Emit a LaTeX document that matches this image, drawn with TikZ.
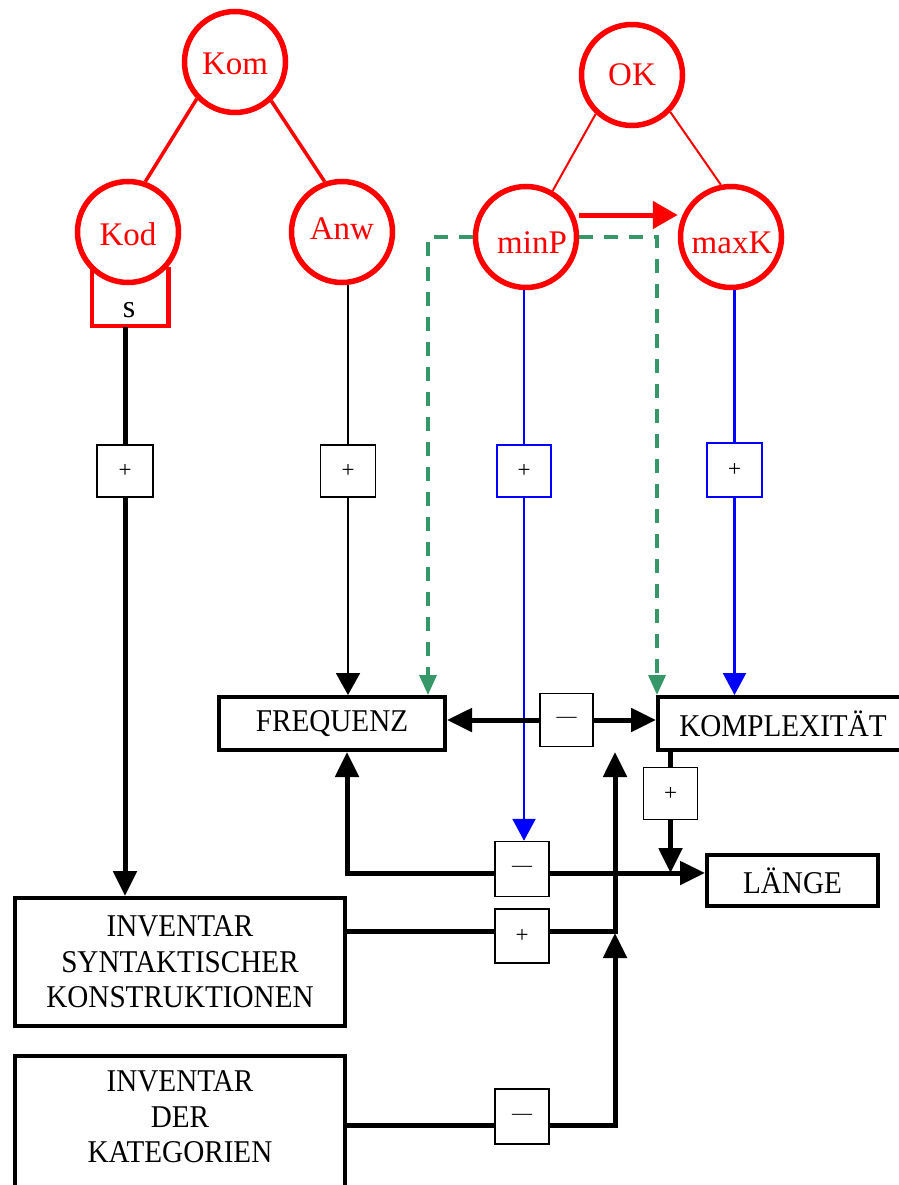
\documentclass[tikz,border=0pt]{standalone}
\usepackage{fontspec}
\setmainfont{Liberation Serif}
\newfontfamily\boxfont{Liberation Serif}[FakeStretch=0.92]
\usetikzlibrary{arrows.meta}
\definecolor{gr}{RGB}{54,152,104}
\definecolor{rd}{RGB}{255,0,0}
\newcommand{\shifttxt}[3]{\raisebox{#2}[\height][\depth]{\kern#1 #3\kern-#1}}
\begin{document}
\begin{tikzpicture}[x=1pt,y=-1pt,
  circ/.style={circle,draw=rd,line width=5.5pt,minimum size=101pt,inner sep=0pt,text=rd,font=\fontsize{33}{36}\selectfont},
  bigbox/.style={draw,line width=4pt,inner sep=0pt,font=\boxfont\fontsize{31.7}{35.5}\selectfont,align=center},
  sbx/.style={draw,line width=1.5pt,minimum width=54pt,minimum height=53pt,inner sep=0pt,fill=white,font=\fontsize{23}{25}\selectfont},
  bsbx/.style={sbx,draw=blue},
  thk/.style={line width=5pt},
  thn/.style={line width=2pt},
  blu/.style={draw=blue,line width=2.5pt},
  grn/.style={draw=gr,line width=3.5pt,dash pattern=on 14pt off 11pt,-{Triangle[length=20pt,width=17pt]}},
  tipk/.style={-{Triangle[length=25pt,width=23pt]}},
  tipb/.style={-{Triangle[length=22pt,width=23pt]}}
]
\useasboundingbox (0,0) rectangle (898,1185);
\fill[white] (0,0) rectangle (898,1185);

% named helper coordinates for line levels
\coordinate (Ly) at (0,873);
\coordinate (Sy) at (0,931);
\coordinate (Ky) at (0,1125);
\coordinate (Jx) at (615,0);
\coordinate (sb) at (125,327);

% circles
\node[circ] (Kom) at (235,62) {\shifttxt{0pt}{-2pt}{Kom}};
\node[circ] (Kod) at (128,232) {\shifttxt{0pt}{-2pt}{Kod}};
\node[circ] (Anw) at (342,232) {\shifttxt{0pt}{3pt}{Anw}};
\node[circ] (OK) at (632,75) {OK};
\node[circ] (minP) at (526,237) {\shifttxt{6pt}{-6pt}{minP}};
\node[circ] (maxK) at (731,237) {\shifttxt{1pt}{-6pt}{maxK}};

% s box
\node[inner sep=0pt,font=\fontsize{32}{34}\selectfont] (s) at (129,310) {s};
\draw[rd,line width=4.5pt] (92,267) -- (92,326) -- (168.5,326) -- (168.5,267);

% big boxes
\node[bigbox,minimum width=226pt,minimum height=53pt] (FREQ) at (332,723.5) {FREQUENZ};
\node[bigbox,minimum width=250pt,minimum height=53pt] (KOMP) at (783,723.5) {KOMPLEXITÄT};
\node[bigbox,minimum width=171pt,minimum height=51pt] (LAENGE) at (792.5,880.5) {LÄNGE};
\node[bigbox,minimum width=330pt,minimum height=128pt] (SYN) at (180,962) {INVENTAR\\SYNTAKTISCHER\\KONSTRUKTIONEN};
\node[bigbox,draw=none,outer sep=0pt,minimum width=330pt,minimum height=122pt] (KAT) at (180,1117) {INVENTAR\\DER\\KATEGORIEN};
\draw[line width=4pt] (KAT.north west) rectangle ([yshift=-40pt]KAT.south east);

% red tree lines
\draw[rd,line width=3.5pt] (Kom.224) -- (Kod.71);
\draw[rd,line width=3.5pt] (Kom.313) -- (Anw.109);
\draw[rd,line width=2pt] (OK.227) -- (minP.60);
\draw[rd,line width=2pt] (OK.316) -- (maxK.101);
\draw[rd,line width=5pt,-{Triangle[length=25pt,width=27pt]}] ([yshift=22pt]minP.east) -- ([yshift=22pt]minP.east -| maxK.west);

% green dashed
\draw[grn] (minP.west) -| ([xshift=96pt]FREQ.north);
\draw[grn] (minP.east) -| ([xshift=-126pt]KOMP.north);

% small boxes
\node[sbx,minimum width=56pt,minimum height=52pt] (pK) at (125,471) {+};
\node[sbx,minimum width=55pt,minimum height=52pt] (pA) at (348,471) {+};
\node[bsbx,minimum height=52pt] (pP) at (524,471) {+};
\node[bsbx,minimum width=55pt,minimum height=54pt] (pX) at (734.5,470) {+};
\node[sbx,minimum width=53pt,font=\fontsize{20}{22}\selectfont] (mFK) at (566.5,720) {—};
\node[sbx,minimum height=52pt] (pKL) at (670.5,793.5) {+};
\node[sbx,minimum height=55pt,font=\fontsize{20}{22}\selectfont] (mL) at (522,869) {—};
\node[sbx,minimum height=54pt] (pS) at (522,936) {+};
\node[sbx,minimum height=55pt,font=\fontsize{20}{22}\selectfont] (mK) at (522,1116.5) {—};

% Kod chain
\draw[thk] (sb) -- (sb |- pK.north);
\draw[thk,tipk] (pK.south) -- (pK.south |- SYN.north);
% Anw chain
\draw[thn] (pA.north |- Anw.south) -- (pA.north);
\draw[thn,-{Triangle[length=22pt,width=24pt]}] (pA.south) -- (pA.south |- FREQ.north);
% minP chain
\draw[blu] (pP.north |- minP.south) -- (pP.north);
\draw[blu,tipb] (pP.south) -- (pP.south |- mL.north);
% maxK chain
\draw[blu] (pX.north |- maxK.south) -- (pX.north);
\draw[blu,tipb] (pX.south) -- (pX.south |- KOMP.north);

% FREQ <-> KOMP
\draw[thk,tipk] (mFK.west) -- (mFK.west -| FREQ.east);
\draw[thk,tipk] (mFK.east) -- (mFK.east -| KOMP.west);

% KOMP -> LAENGE
\draw[thk] (pKL.north |- KOMP.south) -- (pKL.north);
\draw[thk,tipk] (pKL.south) -- (pKL.south |- Ly);

% feedback to FREQ and to LAENGE
\draw[thk,tipk] (mL.west |- Ly) -| ([xshift=15pt]FREQ.south);
\draw[thk,tipk] (mL.east |- Ly) -- (Ly -| LAENGE.west);

% SYN line
\draw[thk] (SYN.east |- Sy) -- (pS.west |- Sy);
\draw[thk,tipk] (pS.east |- Sy) -| (Jx |- KOMP.south);

% KAT line
\draw[thk] (Ky -| SYN.east) -- (Ky -| mK.west);
\draw[thk,tipk] (Ky -| mK.east) -| ([yshift=-2pt]Jx |- Sy);
\end{tikzpicture}
\end{document}
